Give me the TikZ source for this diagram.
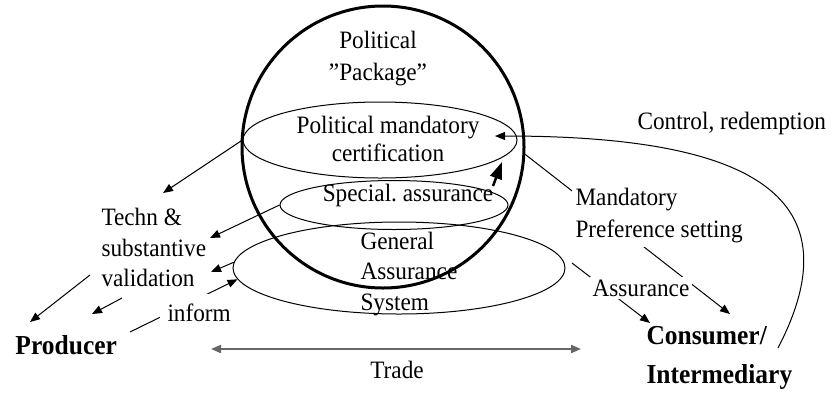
\documentclass[tikz,border=0pt]{standalone}
\usepackage{fontspec}
\setmainfont{Liberation Serif}
\newfontfamily\tallserif{Liberation Serif}[FakeStretch=0.93, Ligatures=TeX]
\usetikzlibrary{arrows.meta,shapes.geometric}

\begin{document}
\begin{tikzpicture}[x=1pt, y=-1pt, line width=1pt,
    >={Triangle[length=10pt,width=8pt]},
    txt/.style={inner sep=0pt, font=\tallserif\fontsize{25}{30.5}\selectfont},
    actor/.style={inner sep=0pt, font=\tallserif\fontsize{27.4}{39}\selectfont\bfseries},
    ring/.style={draw, ellipse, inner sep=0pt},
    cut/.style={fill=white, inner sep=4pt}]
  \useasboundingbox (0,0) rectangle (832,392);
  % the political package and its three rings
  \node[draw, circle, line width=3pt, minimum size=282pt] (pkg) at (383,147) {};
  \node[ring, minimum width=274pt, minimum height=76pt] (pmc) at (380,140) {};
  \node[ring, minimum width=228pt, minimum height=49pt] (spa) at (394,205) {};
  \node[ring, minimum width=332pt, minimum height=92pt] (gas) at (399,268) {};
  % free ends
  \coordinate (t1) at (163,193);
  \coordinate (t2) at (210,238);
  \coordinate (t3) at (211,272);
  \coordinate (i0) at (130,332);
  \coordinate (v1) at (90,275);
  \coordinate (t6) at (30,322);
  \coordinate (v2) at (122,298);
  \coordinate (t7) at (92,314);
  \coordinate (s0) at (493,186);
  \coordinate (s1) at (502,162);
  \coordinate (c0) at (778,348);
  \coordinate (c1) at (495,136);
  \coordinate (m1) at (730,314);
  \coordinate (a0) at (572,263);
  \coordinate (a1) at (650,323);
  \coordinate (tr0) at (211,349);
  \coordinate (tr1) at (581,349);
  % connectors
  \draw[->] (pmc.west) -- (t1);
  \draw[->] (spa.west) -- (t2);
  \draw[->] (gas.178) -- (t3);
  \draw[->] (i0) -- (gas.184);
  \draw[->] (v1) -- (t6);
  \draw[->] (v2) -- (t7);
  \draw[line width=2.5pt, -{Triangle[length=17pt,width=12pt]}] (s0) -- (s1);
  \draw[->] (c0) .. controls (860,190) and (740,136) .. (c1);
  \draw[->] (pkg.-3) -- (m1);
  \draw[->] (a0) -- (a1);
  \draw[<->, line width=2pt, black!60] (tr0) -- (tr1);
  % labels
  \node[txt, align=center, font=\tallserif\fontsize{25}{32}\selectfont] (pol) at (378,59) {Political\\”Package”};
  \node[txt, align=center, font=\tallserif\fontsize{25}{28}\selectfont] (pmctxt) at (388,139) {Political mandatory\\certification};
  \node[txt] (spatxt) at (408,195) {Special.\ assurance};
  \node[txt, align=left, anchor=west] (gastxt) at (360,274) {General\\Assurance\\System};
  \node[txt, align=left, anchor=west] (tsv) at (101,247.5) {Techn \&\\substantive\\validation};
  \node[txt, cut, inner xsep=8pt, inner ysep=10pt, anchor=west] (inform) at (159,313) {inform};
  \node[actor, anchor=west] (prod) at (15,345) {Producer};
  \node[actor, align=left, anchor=west] (cons) at (646,357.5) {Consumer/\\Intermediary};
  \node[txt] (trade) at (397,370) {Trade};
  \node[txt, cut, inner sep=3pt, anchor=west] (assr) at (589,288) {Assurance};
  \node[txt, cut, align=left, anchor=west, font=\tallserif\fontsize{25}{32}\selectfont] (mand) at (571,216) {Mandatory\\Preference setting};
  \node[txt, anchor=west] (ctrl) at (637,123) {Control, redemption};
\end{tikzpicture}
\end{document}
